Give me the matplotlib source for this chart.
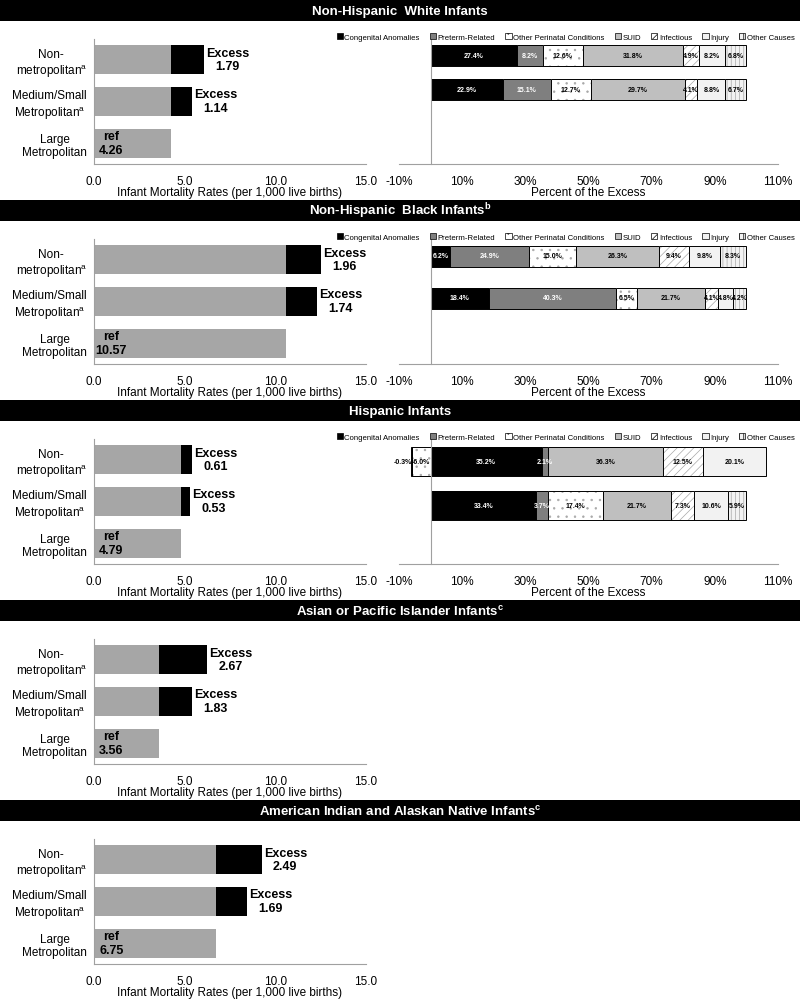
import matplotlib
matplotlib.use('Agg')
import matplotlib.pyplot as plt
from matplotlib.patches import Patch
import numpy as np

plt.rcParams['font.family'] = ['Liberation Sans', 'DejaVu Sans']
plt.rcParams['mathtext.fontset'] = 'custom'
plt.rcParams['mathtext.rm'] = 'Liberation Sans'
plt.rcParams['mathtext.bf'] = 'Liberation Sans:bold'
plt.rcParams['hatch.linewidth'] = 0.5

# ---- data ----
titles = ['Non-Hispanic  White Infants',
          r'Non-Hispanic  Black Infants$^{\mathbf{b}}$',
          'Hispanic Infants',
          r'Asian or Pacific Islander Infants$^{\mathbf{c}}$',
          r'American Indian and Alaskan Native Infants$^{\mathbf{c}}$']
places = ['Non-\nmetropolitan$^{\\mathrm{a}}$',
          'Medium/Small\nMetropolitan$^{\\mathrm{a}}$',
          'Large\nMetropolitan']

ref_rate = [4.26, 10.57, 4.79, 3.56, 6.75]
excess_nonmetro = [1.79, 1.96, 0.61, 2.67, 2.49]
excess_medium = [1.14, 1.74, 0.53, 1.83, 1.69]

causes = ['Congenital Anomalies', 'Preterm-Related', 'Other Perinatal Conditions',
          'SUID', 'Infectious', 'Injury', 'Other Causes']
# percent of the excess, by cause (non-metro, medium/small metro)
white_nonmetro = [27.4, 8.2, 12.6, 31.8, 4.9, 8.2, 6.8]
white_medium = [22.9, 15.1, 12.7, 29.7, 4.1, 8.8, 6.7]
black_nonmetro = [6.2, 24.9, 15.0, 26.3, 9.4, 9.8, 8.3]
black_medium = [18.4, 40.3, 6.5, 21.7, 4.1, 4.8, 4.2]
hisp_nonmetro = [35.2, 2.1, -6.0, 36.3, 12.5, 20.1, -0.3]
hisp_medium = [33.4, 3.7, 17.4, 21.7, 7.3, 10.6, 5.9]
pct_rows = [(white_nonmetro, white_medium),
            (black_nonmetro, black_medium),
            (hisp_nonmetro, hisp_medium)]

# ---- styles ----
face = ['black', '#7f7f7f', 'white', '#bfbfbf', 'white', '#f2f2f2', '#f2f2f2']
hatch = [None, None, '..', None, '////', None, '||||']
txtcol = ['white', 'white', 'black', 'black', 'black', 'black', 'black']
gray = '#a6a6a6'
spine_col = '#a0a0a0'
# right-panel bar centre / spacing / height in pixels (relative to section top)
right_geom = [(56, 34, 21), (57, 42, 21), (62, 44, 29)]

W, H = 800, 1004
fig = plt.figure(figsize=(W / 100, H / 100), dpi=100)


def box(x0, y0, x1, y1):
    return [x0 / W, 1 - y1 / H, (x1 - x0) / W, (y1 - y0) / H]


for s in range(5):
    off = 200 * s
    # title band
    tax = fig.add_axes(box(0, off + 1, W, off + 22))
    tax.set_facecolor('black')
    tax.set_xticks([])
    tax.set_yticks([])
    for sp in tax.spines.values():
        sp.set_visible(False)
    tax.text(0.5, 0.5, titles[s], color='white', fontsize=9.5, fontweight='bold',
             ha='center', va='center', transform=tax.transAxes)

    # left: rates
    ax = fig.add_axes(box(94, off + 39.5, 366, off + 165))
    y = np.arange(3)
    base = [ref_rate[s]] * 3
    exc = [excess_nonmetro[s], excess_medium[s]]
    ax.barh(y, base, height=0.69, color=gray)
    ax.barh(y[:2], exc, left=base[:2], height=0.69, color='black')
    for k in range(2):
        ax.annotate('Excess\n%.2f' % exc[k], xy=(base[k] + exc[k], k), xytext=(1.5, 0),
                    textcoords='offset points', ha='left', va='center', fontsize=9,
                    fontweight='bold', multialignment='center')
    ax.annotate('ref\n%.2f' % ref_rate[s], xy=(0, 2), xytext=(12.5, 0),
                textcoords='offset points', ha='center', va='center', fontsize=9,
                fontweight='bold', multialignment='center')
    ax.set_xlim(0, 15)
    ax.set_ylim(2.5, -0.5)
    ax.set_xticks([0, 5, 10, 15])
    ax.set_xticklabels(['%.1f' % t for t in [0, 5, 10, 15]])
    ax.set_yticks(y)
    ax.set_yticklabels(places)
    for lab in ax.get_yticklabels():
        lab.set_multialignment('center')
    ax.tick_params(length=0, labelsize=8.5, pad=8)
    ax.tick_params(axis='y', pad=5)
    ax.set_xlabel('Infant Mortality Rates (per 1,000 live births)', fontsize=8.5, labelpad=-1)
    for side in ['top', 'right']:
        ax.spines[side].set_visible(False)
    for side in ['left', 'bottom']:
        ax.spines[side].set_color(spine_col)
        ax.spines[side].set_linewidth(0.8)

    if s > 2:
        continue

    # right: percent of the excess
    c0, sp_, h = right_geom[s]
    rx = fig.add_axes(box(399, off + 39, 778, off + 165))
    rx.set_xlim(-10, 110)
    rx.set_ylim((165 - c0) / sp_, (39 - c0) / sp_)
    for k, row in enumerate(pct_rows[s]):
        pos, neg = 0.0, 0.0
        for i, v in enumerate(row):
            if v >= 0:
                left = pos
                pos += v
            else:
                left = neg + v
                neg += v
            rx.barh(k, abs(v), left=left, height=h / sp_, color=face[i],
                    hatch=hatch[i], edgecolor='#a8a8a8', linewidth=0)
            rx.barh(k, abs(v), left=left, height=h / sp_, fill=False,
                    edgecolor='black', linewidth=0.7)
            if v < 0 and abs(v) < 1:
                # tiny negative slice: label sits just outside it
                rx.text(left + abs(v), k, '%.1f%%' % v, ha='right', va='center',
                        fontsize=5, fontweight='bold', color=txtcol[i])
            else:
                rx.text(left + abs(v) / 2, k, '%.1f%%' % v, ha='center', va='center',
                        fontsize=5, fontweight='bold', color=txtcol[i])
    rx.set_xticks(np.arange(-10, 111, 20))
    rx.set_xticklabels(['%d%%' % t for t in np.arange(-10, 111, 20)])
    rx.set_yticks([])
    rx.tick_params(length=0, labelsize=8.5, pad=8)
    rx.set_xlabel('Percent of the Excess', fontsize=8.5, labelpad=-1)
    rx.spines['left'].set_position(('data', 0))
    for side in ['top', 'right']:
        rx.spines[side].set_visible(False)
    for side in ['left', 'bottom']:
        rx.spines[side].set_color(spine_col)
        rx.spines[side].set_linewidth(0.8)
    handles = [Patch(facecolor=face[i], hatch=hatch[i], edgecolor='black', linewidth=0.5)
               for i in range(len(causes))]
    rx.legend(handles, causes, loc='center', bbox_to_anchor=(0.44, 1.01), ncol=7,
              fontsize=5.6, frameon=False, handlelength=0.8, handleheight=0.8,
              handletextpad=0.2, columnspacing=1.3, borderaxespad=0)

fig.savefig('out.png', dpi=100)
